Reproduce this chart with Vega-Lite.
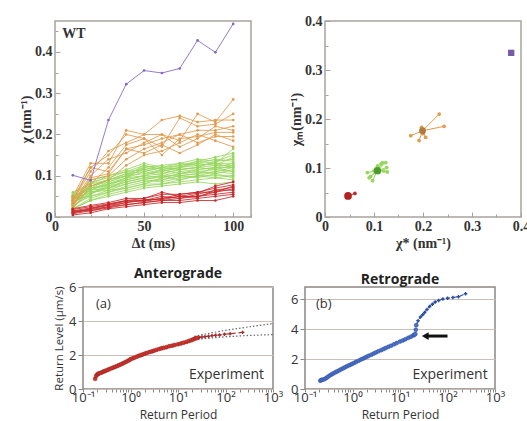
{
"$schema":"https://vega.github.io/schema/vega-lite/v6.json",
"background":"white",
"padding":{"left":18,"top":13,"right":0,"bottom":0},
"spacing":15,
"config":{"view":{"stroke":"#a8a29c","strokeWidth":1.5}},
"datasets":{
"curves":[
{"s":"G1","c":"G","t":10,"v":0.02},{"s":"G1","c":"G","t":20,"v":0.04},{"s":"G1","c":"G","t":30,"v":0.05},{"s":"G1","c":"G","t":40,"v":0.06},{"s":"G1","c":"G","t":50,"v":0.07},{"s":"G1","c":"G","t":60,"v":0.075},{"s":"G1","c":"G","t":70,"v":0.08},{"s":"G1","c":"G","t":80,"v":0.085},{"s":"G1","c":"G","t":90,"v":0.08},{"s":"G1","c":"G","t":100,"v":0.085},
{"s":"G2","c":"G","t":10,"v":0.03},{"s":"G2","c":"G","t":20,"v":0.05},{"s":"G2","c":"G","t":30,"v":0.06},{"s":"G2","c":"G","t":40,"v":0.07},{"s":"G2","c":"G","t":50,"v":0.08},{"s":"G2","c":"G","t":60,"v":0.08},{"s":"G2","c":"G","t":70,"v":0.085},{"s":"G2","c":"G","t":80,"v":0.09},{"s":"G2","c":"G","t":90,"v":0.095},{"s":"G2","c":"G","t":100,"v":0.09},
{"s":"G3","c":"G","t":10,"v":0.025},{"s":"G3","c":"G","t":20,"v":0.06},{"s":"G3","c":"G","t":30,"v":0.065},{"s":"G3","c":"G","t":40,"v":0.08},{"s":"G3","c":"G","t":50,"v":0.09},{"s":"G3","c":"G","t":60,"v":0.085},{"s":"G3","c":"G","t":70,"v":0.095},{"s":"G3","c":"G","t":80,"v":0.1},{"s":"G3","c":"G","t":90,"v":0.1},{"s":"G3","c":"G","t":100,"v":0.1},
{"s":"G4","c":"G","t":10,"v":0.035},{"s":"G4","c":"G","t":20,"v":0.055},{"s":"G4","c":"G","t":30,"v":0.075},{"s":"G4","c":"G","t":40,"v":0.085},{"s":"G4","c":"G","t":50,"v":0.095},{"s":"G4","c":"G","t":60,"v":0.09},{"s":"G4","c":"G","t":70,"v":0.1},{"s":"G4","c":"G","t":80,"v":0.105},{"s":"G4","c":"G","t":90,"v":0.11},{"s":"G4","c":"G","t":100,"v":0.105},
{"s":"G5","c":"G","t":10,"v":0.04},{"s":"G5","c":"G","t":20,"v":0.065},{"s":"G5","c":"G","t":30,"v":0.07},{"s":"G5","c":"G","t":40,"v":0.09},{"s":"G5","c":"G","t":50,"v":0.1},{"s":"G5","c":"G","t":60,"v":0.095},{"s":"G5","c":"G","t":70,"v":0.105},{"s":"G5","c":"G","t":80,"v":0.11},{"s":"G5","c":"G","t":90,"v":0.115},{"s":"G5","c":"G","t":100,"v":0.11},
{"s":"G6","c":"G","t":10,"v":0.045},{"s":"G6","c":"G","t":20,"v":0.07},{"s":"G6","c":"G","t":30,"v":0.08},{"s":"G6","c":"G","t":40,"v":0.095},{"s":"G6","c":"G","t":50,"v":0.11},{"s":"G6","c":"G","t":60,"v":0.1},{"s":"G6","c":"G","t":70,"v":0.11},{"s":"G6","c":"G","t":80,"v":0.115},{"s":"G6","c":"G","t":90,"v":0.12},{"s":"G6","c":"G","t":100,"v":0.12},
{"s":"G7","c":"G","t":10,"v":0.05},{"s":"G7","c":"G","t":20,"v":0.075},{"s":"G7","c":"G","t":30,"v":0.085},{"s":"G7","c":"G","t":40,"v":0.1},{"s":"G7","c":"G","t":50,"v":0.115},{"s":"G7","c":"G","t":60,"v":0.105},{"s":"G7","c":"G","t":70,"v":0.115},{"s":"G7","c":"G","t":80,"v":0.12},{"s":"G7","c":"G","t":90,"v":0.125},{"s":"G7","c":"G","t":100,"v":0.125},
{"s":"G8","c":"G","t":10,"v":0.055},{"s":"G8","c":"G","t":20,"v":0.08},{"s":"G8","c":"G","t":30,"v":0.09},{"s":"G8","c":"G","t":40,"v":0.105},{"s":"G8","c":"G","t":50,"v":0.12},{"s":"G8","c":"G","t":60,"v":0.11},{"s":"G8","c":"G","t":70,"v":0.12},{"s":"G8","c":"G","t":80,"v":0.125},{"s":"G8","c":"G","t":90,"v":0.13},{"s":"G8","c":"G","t":100,"v":0.13},
{"s":"G9","c":"G","t":10,"v":0.03},{"s":"G9","c":"G","t":20,"v":0.085},{"s":"G9","c":"G","t":30,"v":0.095},{"s":"G9","c":"G","t":40,"v":0.11},{"s":"G9","c":"G","t":50,"v":0.125},{"s":"G9","c":"G","t":60,"v":0.115},{"s":"G9","c":"G","t":70,"v":0.125},{"s":"G9","c":"G","t":80,"v":0.13},{"s":"G9","c":"G","t":90,"v":0.14},{"s":"G9","c":"G","t":100,"v":0.135},
{"s":"G10","c":"G","t":10,"v":0.04},{"s":"G10","c":"G","t":20,"v":0.09},{"s":"G10","c":"G","t":30,"v":0.1},{"s":"G10","c":"G","t":40,"v":0.115},{"s":"G10","c":"G","t":50,"v":0.13},{"s":"G10","c":"G","t":60,"v":0.12},{"s":"G10","c":"G","t":70,"v":0.13},{"s":"G10","c":"G","t":80,"v":0.14},{"s":"G10","c":"G","t":90,"v":0.135},{"s":"G10","c":"G","t":100,"v":0.14},
{"s":"G11","c":"G","t":10,"v":0.02},{"s":"G11","c":"G","t":20,"v":0.045},{"s":"G11","c":"G","t":30,"v":0.06},{"s":"G11","c":"G","t":40,"v":0.075},{"s":"G11","c":"G","t":50,"v":0.085},{"s":"G11","c":"G","t":60,"v":0.09},{"s":"G11","c":"G","t":70,"v":0.1},{"s":"G11","c":"G","t":80,"v":0.095},{"s":"G11","c":"G","t":90,"v":0.105},{"s":"G11","c":"G","t":100,"v":0.115},
{"s":"G12","c":"G","t":10,"v":0.035},{"s":"G12","c":"G","t":20,"v":0.06},{"s":"G12","c":"G","t":30,"v":0.07},{"s":"G12","c":"G","t":40,"v":0.085},{"s":"G12","c":"G","t":50,"v":0.095},{"s":"G12","c":"G","t":60,"v":0.1},{"s":"G12","c":"G","t":70,"v":0.09},{"s":"G12","c":"G","t":80,"v":0.1},{"s":"G12","c":"G","t":90,"v":0.11},{"s":"G12","c":"G","t":100,"v":0.12},
{"s":"G13","c":"G","t":10,"v":0.045},{"s":"G13","c":"G","t":20,"v":0.05},{"s":"G13","c":"G","t":30,"v":0.065},{"s":"G13","c":"G","t":40,"v":0.07},{"s":"G13","c":"G","t":50,"v":0.08},{"s":"G13","c":"G","t":60,"v":0.095},{"s":"G13","c":"G","t":70,"v":0.105},{"s":"G13","c":"G","t":80,"v":0.11},{"s":"G13","c":"G","t":90,"v":0.105},{"s":"G13","c":"G","t":100,"v":0.095},
{"s":"G14","c":"G","t":10,"v":0.025},{"s":"G14","c":"G","t":20,"v":0.055},{"s":"G14","c":"G","t":30,"v":0.08},{"s":"G14","c":"G","t":40,"v":0.09},{"s":"G14","c":"G","t":50,"v":0.1},{"s":"G14","c":"G","t":60,"v":0.105},{"s":"G14","c":"G","t":70,"v":0.115},{"s":"G14","c":"G","t":80,"v":0.12},{"s":"G14","c":"G","t":90,"v":0.115},{"s":"G14","c":"G","t":100,"v":0.125},
{"s":"G15","c":"G","t":10,"v":0.05},{"s":"G15","c":"G","t":20,"v":0.065},{"s":"G15","c":"G","t":30,"v":0.085},{"s":"G15","c":"G","t":40,"v":0.1},{"s":"G15","c":"G","t":50,"v":0.105},{"s":"G15","c":"G","t":60,"v":0.11},{"s":"G15","c":"G","t":70,"v":0.12},{"s":"G15","c":"G","t":80,"v":0.13},{"s":"G15","c":"G","t":90,"v":0.125},{"s":"G15","c":"G","t":100,"v":0.145},
{"s":"G16","c":"G","t":10,"v":0.04},{"s":"G16","c":"G","t":20,"v":0.075},{"s":"G16","c":"G","t":30,"v":0.09},{"s":"G16","c":"G","t":40,"v":0.105},{"s":"G16","c":"G","t":50,"v":0.11},{"s":"G16","c":"G","t":60,"v":0.12},{"s":"G16","c":"G","t":70,"v":0.125},{"s":"G16","c":"G","t":80,"v":0.135},{"s":"G16","c":"G","t":90,"v":0.145},{"s":"G16","c":"G","t":100,"v":0.155},
{"s":"G17","c":"G","t":10,"v":0.03},{"s":"G17","c":"G","t":20,"v":0.07},{"s":"G17","c":"G","t":30,"v":0.075},{"s":"G17","c":"G","t":40,"v":0.095},{"s":"G17","c":"G","t":50,"v":0.12},{"s":"G17","c":"G","t":60,"v":0.125},{"s":"G17","c":"G","t":70,"v":0.13},{"s":"G17","c":"G","t":80,"v":0.125},{"s":"G17","c":"G","t":90,"v":0.13},{"s":"G17","c":"G","t":100,"v":0.165},
{"s":"G18","c":"G","t":10,"v":0.06},{"s":"G18","c":"G","t":20,"v":0.08},{"s":"G18","c":"G","t":30,"v":0.1},{"s":"G18","c":"G","t":40,"v":0.11},{"s":"G18","c":"G","t":50,"v":0.115},{"s":"G18","c":"G","t":60,"v":0.12},{"s":"G18","c":"G","t":70,"v":0.115},{"s":"G18","c":"G","t":80,"v":0.12},{"s":"G18","c":"G","t":90,"v":0.135},{"s":"G18","c":"G","t":100,"v":0.15},
{"s":"G19","c":"G","t":10,"v":0.02},{"s":"G19","c":"G","t":20,"v":0.04},{"s":"G19","c":"G","t":30,"v":0.055},{"s":"G19","c":"G","t":40,"v":0.065},{"s":"G19","c":"G","t":50,"v":0.075},{"s":"G19","c":"G","t":60,"v":0.08},{"s":"G19","c":"G","t":70,"v":0.09},{"s":"G19","c":"G","t":80,"v":0.1},{"s":"G19","c":"G","t":90,"v":0.095},{"s":"G19","c":"G","t":100,"v":0.1},
{"s":"G20","c":"G","t":10,"v":0.045},{"s":"G20","c":"G","t":20,"v":0.06},{"s":"G20","c":"G","t":30,"v":0.07},{"s":"G20","c":"G","t":40,"v":0.08},{"s":"G20","c":"G","t":50,"v":0.09},{"s":"G20","c":"G","t":60,"v":0.1},{"s":"G20","c":"G","t":70,"v":0.1},{"s":"G20","c":"G","t":80,"v":0.105},{"s":"G20","c":"G","t":90,"v":0.12},{"s":"G20","c":"G","t":100,"v":0.13},
{"s":"G21","c":"G","t":10,"v":0.035},{"s":"G21","c":"G","t":20,"v":0.065},{"s":"G21","c":"G","t":30,"v":0.08},{"s":"G21","c":"G","t":40,"v":0.095},{"s":"G21","c":"G","t":50,"v":0.1},{"s":"G21","c":"G","t":60,"v":0.115},{"s":"G21","c":"G","t":70,"v":0.105},{"s":"G21","c":"G","t":80,"v":0.115},{"s":"G21","c":"G","t":90,"v":0.12},{"s":"G21","c":"G","t":100,"v":0.11},
{"s":"G22","c":"G","t":10,"v":0.05},{"s":"G22","c":"G","t":20,"v":0.07},{"s":"G22","c":"G","t":30,"v":0.09},{"s":"G22","c":"G","t":40,"v":0.1},{"s":"G22","c":"G","t":50,"v":0.125},{"s":"G22","c":"G","t":60,"v":0.115},{"s":"G22","c":"G","t":70,"v":0.12},{"s":"G22","c":"G","t":80,"v":0.135},{"s":"G22","c":"G","t":90,"v":0.13},{"s":"G22","c":"G","t":100,"v":0.12},
{"s":"O1","c":"O","t":10,"v":0.05},{"s":"O1","c":"O","t":20,"v":0.13},{"s":"O1","c":"O","t":30,"v":0.13},{"s":"O1","c":"O","t":40,"v":0.21},{"s":"O1","c":"O","t":50,"v":0.2},{"s":"O1","c":"O","t":60,"v":0.235},{"s":"O1","c":"O","t":70,"v":0.245},{"s":"O1","c":"O","t":80,"v":0.23},{"s":"O1","c":"O","t":90,"v":0.235},{"s":"O1","c":"O","t":100,"v":0.235},
{"s":"O2","c":"O","t":10,"v":0.04},{"s":"O2","c":"O","t":20,"v":0.11},{"s":"O2","c":"O","t":30,"v":0.16},{"s":"O2","c":"O","t":40,"v":0.18},{"s":"O2","c":"O","t":50,"v":0.2},{"s":"O2","c":"O","t":60,"v":0.2},{"s":"O2","c":"O","t":70,"v":0.185},{"s":"O2","c":"O","t":80,"v":0.25},{"s":"O2","c":"O","t":90,"v":0.23},{"s":"O2","c":"O","t":100,"v":0.285},
{"s":"O3","c":"O","t":10,"v":0.03},{"s":"O3","c":"O","t":20,"v":0.08},{"s":"O3","c":"O","t":30,"v":0.12},{"s":"O3","c":"O","t":40,"v":0.175},{"s":"O3","c":"O","t":50,"v":0.19},{"s":"O3","c":"O","t":60,"v":0.17},{"s":"O3","c":"O","t":70,"v":0.24},{"s":"O3","c":"O","t":80,"v":0.22},{"s":"O3","c":"O","t":90,"v":0.225},{"s":"O3","c":"O","t":100,"v":0.25},
{"s":"O4","c":"O","t":10,"v":0.045},{"s":"O4","c":"O","t":20,"v":0.12},{"s":"O4","c":"O","t":30,"v":0.11},{"s":"O4","c":"O","t":40,"v":0.165},{"s":"O4","c":"O","t":50,"v":0.175},{"s":"O4","c":"O","t":60,"v":0.19},{"s":"O4","c":"O","t":70,"v":0.2},{"s":"O4","c":"O","t":80,"v":0.21},{"s":"O4","c":"O","t":90,"v":0.21},{"s":"O4","c":"O","t":100,"v":0.22},
{"s":"O5","c":"O","t":10,"v":0.035},{"s":"O5","c":"O","t":20,"v":0.1},{"s":"O5","c":"O","t":30,"v":0.14},{"s":"O5","c":"O","t":40,"v":0.155},{"s":"O5","c":"O","t":50,"v":0.18},{"s":"O5","c":"O","t":60,"v":0.2},{"s":"O5","c":"O","t":70,"v":0.17},{"s":"O5","c":"O","t":80,"v":0.19},{"s":"O5","c":"O","t":90,"v":0.22},{"s":"O5","c":"O","t":100,"v":0.21},
{"s":"O6","c":"O","t":10,"v":0.025},{"s":"O6","c":"O","t":20,"v":0.09},{"s":"O6","c":"O","t":30,"v":0.1},{"s":"O6","c":"O","t":40,"v":0.14},{"s":"O6","c":"O","t":50,"v":0.165},{"s":"O6","c":"O","t":60,"v":0.18},{"s":"O6","c":"O","t":70,"v":0.2},{"s":"O6","c":"O","t":80,"v":0.18},{"s":"O6","c":"O","t":90,"v":0.195},{"s":"O6","c":"O","t":100,"v":0.195},
{"s":"O7","c":"O","t":10,"v":0.02},{"s":"O7","c":"O","t":20,"v":0.075},{"s":"O7","c":"O","t":30,"v":0.09},{"s":"O7","c":"O","t":40,"v":0.125},{"s":"O7","c":"O","t":50,"v":0.15},{"s":"O7","c":"O","t":60,"v":0.16},{"s":"O7","c":"O","t":70,"v":0.18},{"s":"O7","c":"O","t":80,"v":0.2},{"s":"O7","c":"O","t":90,"v":0.185},{"s":"O7","c":"O","t":100,"v":0.17},
{"s":"O8","c":"O","t":10,"v":0.04},{"s":"O8","c":"O","t":20,"v":0.12},{"s":"O8","c":"O","t":30,"v":0.15},{"s":"O8","c":"O","t":40,"v":0.2},{"s":"O8","c":"O","t":50,"v":0.19},{"s":"O8","c":"O","t":60,"v":0.15},{"s":"O8","c":"O","t":70,"v":0.19},{"s":"O8","c":"O","t":80,"v":0.195},{"s":"O8","c":"O","t":90,"v":0.205},{"s":"O8","c":"O","t":100,"v":0.205},
{"s":"O9","c":"O","t":10,"v":0.03},{"s":"O9","c":"O","t":20,"v":0.095},{"s":"O9","c":"O","t":30,"v":0.105},{"s":"O9","c":"O","t":40,"v":0.165},{"s":"O9","c":"O","t":50,"v":0.155},{"s":"O9","c":"O","t":60,"v":0.175},{"s":"O9","c":"O","t":70,"v":0.155},{"s":"O9","c":"O","t":80,"v":0.175},{"s":"O9","c":"O","t":90,"v":0.2},{"s":"O9","c":"O","t":100,"v":0.185},
{"s":"R1","c":"R","t":10,"v":0.005},{"s":"R1","c":"R","t":20,"v":0.01},{"s":"R1","c":"R","t":30,"v":0.02},{"s":"R1","c":"R","t":40,"v":0.025},{"s":"R1","c":"R","t":50,"v":0.03},{"s":"R1","c":"R","t":60,"v":0.035},{"s":"R1","c":"R","t":70,"v":0.035},{"s":"R1","c":"R","t":80,"v":0.04},{"s":"R1","c":"R","t":90,"v":0.04},{"s":"R1","c":"R","t":100,"v":0.05},
{"s":"R2","c":"R","t":10,"v":0.008},{"s":"R2","c":"R","t":20,"v":0.015},{"s":"R2","c":"R","t":30,"v":0.022},{"s":"R2","c":"R","t":40,"v":0.03},{"s":"R2","c":"R","t":50,"v":0.035},{"s":"R2","c":"R","t":60,"v":0.04},{"s":"R2","c":"R","t":70,"v":0.04},{"s":"R2","c":"R","t":80,"v":0.045},{"s":"R2","c":"R","t":90,"v":0.05},{"s":"R2","c":"R","t":100,"v":0.055},
{"s":"R3","c":"R","t":10,"v":0.01},{"s":"R3","c":"R","t":20,"v":0.018},{"s":"R3","c":"R","t":30,"v":0.025},{"s":"R3","c":"R","t":40,"v":0.03},{"s":"R3","c":"R","t":50,"v":0.035},{"s":"R3","c":"R","t":60,"v":0.04},{"s":"R3","c":"R","t":70,"v":0.045},{"s":"R3","c":"R","t":80,"v":0.05},{"s":"R3","c":"R","t":90,"v":0.055},{"s":"R3","c":"R","t":100,"v":0.06},
{"s":"R4","c":"R","t":10,"v":0.012},{"s":"R4","c":"R","t":20,"v":0.02},{"s":"R4","c":"R","t":30,"v":0.028},{"s":"R4","c":"R","t":40,"v":0.035},{"s":"R4","c":"R","t":50,"v":0.04},{"s":"R4","c":"R","t":60,"v":0.045},{"s":"R4","c":"R","t":70,"v":0.05},{"s":"R4","c":"R","t":80,"v":0.05},{"s":"R4","c":"R","t":90,"v":0.06},{"s":"R4","c":"R","t":100,"v":0.068},
{"s":"R5","c":"R","t":10,"v":0.015},{"s":"R5","c":"R","t":20,"v":0.022},{"s":"R5","c":"R","t":30,"v":0.03},{"s":"R5","c":"R","t":40,"v":0.038},{"s":"R5","c":"R","t":50,"v":0.04},{"s":"R5","c":"R","t":60,"v":0.05},{"s":"R5","c":"R","t":70,"v":0.045},{"s":"R5","c":"R","t":80,"v":0.055},{"s":"R5","c":"R","t":90,"v":0.065},{"s":"R5","c":"R","t":100,"v":0.072},
{"s":"R6","c":"R","t":10,"v":0.018},{"s":"R6","c":"R","t":20,"v":0.025},{"s":"R6","c":"R","t":30,"v":0.032},{"s":"R6","c":"R","t":40,"v":0.04},{"s":"R6","c":"R","t":50,"v":0.045},{"s":"R6","c":"R","t":60,"v":0.055},{"s":"R6","c":"R","t":70,"v":0.055},{"s":"R6","c":"R","t":80,"v":0.06},{"s":"R6","c":"R","t":90,"v":0.07},{"s":"R6","c":"R","t":100,"v":0.078},
{"s":"R7","c":"R","t":10,"v":0.02},{"s":"R7","c":"R","t":20,"v":0.028},{"s":"R7","c":"R","t":30,"v":0.035},{"s":"R7","c":"R","t":40,"v":0.045},{"s":"R7","c":"R","t":50,"v":0.045},{"s":"R7","c":"R","t":60,"v":0.06},{"s":"R7","c":"R","t":70,"v":0.05},{"s":"R7","c":"R","t":80,"v":0.058},{"s":"R7","c":"R","t":90,"v":0.075},{"s":"R7","c":"R","t":100,"v":0.085},
{"s":"R8","c":"R","t":10,"v":0.01},{"s":"R8","c":"R","t":20,"v":0.02},{"s":"R8","c":"R","t":30,"v":0.03},{"s":"R8","c":"R","t":40,"v":0.04},{"s":"R8","c":"R","t":50,"v":0.038},{"s":"R8","c":"R","t":60,"v":0.045},{"s":"R8","c":"R","t":70,"v":0.055},{"s":"R8","c":"R","t":80,"v":0.06},{"s":"R8","c":"R","t":90,"v":0.06},{"s":"R8","c":"R","t":100,"v":0.075},
{"s":"R9","c":"R","t":10,"v":0.015},{"s":"R9","c":"R","t":20,"v":0.015},{"s":"R9","c":"R","t":30,"v":0.025},{"s":"R9","c":"R","t":40,"v":0.035},{"s":"R9","c":"R","t":50,"v":0.042},{"s":"R9","c":"R","t":60,"v":0.042},{"s":"R9","c":"R","t":70,"v":0.05},{"s":"R9","c":"R","t":80,"v":0.048},{"s":"R9","c":"R","t":90,"v":0.065},{"s":"R9","c":"R","t":100,"v":0.065},
{"s":"P1","c":"P","t":10,"v":0.101},{"s":"P1","c":"P","t":20,"v":0.089},{"s":"P1","c":"P","t":30,"v":0.235},{"s":"P1","c":"P","t":40,"v":0.322},{"s":"P1","c":"P","t":50,"v":0.355},{"s":"P1","c":"P","t":60,"v":0.349},{"s":"P1","c":"P","t":70,"v":0.36},{"s":"P1","c":"P","t":80,"v":0.428},{"s":"P1","c":"P","t":90,"v":0.399},{"s":"P1","c":"P","t":100,"v":0.468}
],
"sc":[
{"c":"R","x":0.061,"y":0.048,"cx":0.047,"cy":0.043},
{"c":"G","x":0.0865,"y":0.0908,"cx":0.107,"cy":0.0945},
{"c":"G","x":0.09,"y":0.08,"cx":0.107,"cy":0.0945},
{"c":"G","x":0.097,"y":0.074,"cx":0.107,"cy":0.0945},
{"c":"G","x":0.1,"y":0.094,"cx":0.107,"cy":0.0945},
{"c":"G","x":0.1035,"y":0.0975,"cx":0.107,"cy":0.0945},
{"c":"G","x":0.107,"y":0.1045,"cx":0.107,"cy":0.0945},
{"c":"G","x":0.11,"y":0.091,"cx":0.107,"cy":0.0945},
{"c":"G","x":0.114,"y":0.108,"cx":0.107,"cy":0.0945},
{"c":"G","x":0.117,"y":0.111,"cx":0.107,"cy":0.0945},
{"c":"G","x":0.124,"y":0.111,"cx":0.107,"cy":0.0945},
{"c":"G","x":0.126,"y":0.101,"cx":0.107,"cy":0.0945},
{"c":"G","x":0.12,"y":0.094,"cx":0.107,"cy":0.0945},
{"c":"G","x":0.093,"y":0.083,"cx":0.107,"cy":0.0945},
{"c":"G","x":0.127,"y":0.092,"cx":0.107,"cy":0.0945},
{"c":"O","x":0.233,"y":0.21,"cx":0.199,"cy":0.176},
{"c":"O","x":0.243,"y":0.185,"cx":0.199,"cy":0.176},
{"c":"O","x":0.175,"y":0.166,"cx":0.199,"cy":0.176},
{"c":"O","x":0.192,"y":0.156,"cx":0.199,"cy":0.176},
{"c":"O","x":0.2055,"y":0.1625,"cx":0.199,"cy":0.176},
{"c":"O","x":0.197,"y":0.183,"cx":0.199,"cy":0.176},
{"c":"O","x":0.2,"y":0.17,"cx":0.199,"cy":0.176}
],
"ctr":[
{"c":"R","x":0.047,"y":0.043},
{"c":"G","x":0.107,"y":0.0945},
{"c":"O","x":0.199,"y":0.176},
{"c":"P","x":0.38,"y":0.335}
],
"ret":[
{"p":"a","k":"d","T":0.18,"y":0.6},{"p":"a","k":"d","T":0.19,"y":0.78},{"p":"a","k":"d","T":0.2,"y":0.86},{"p":"a","k":"d","T":0.21,"y":0.89},{"p":"a","k":"d","T":0.22,"y":0.92},{"p":"a","k":"d","T":0.24,"y":0.96},{"p":"a","k":"d","T":0.26,"y":1.0},{"p":"a","k":"d","T":0.28,"y":1.04},{"p":"a","k":"d","T":0.3,"y":1.08},{"p":"a","k":"d","T":0.33,"y":1.12},{"p":"a","k":"d","T":0.36,"y":1.17},{"p":"a","k":"d","T":0.4,"y":1.22},{"p":"a","k":"d","T":0.44,"y":1.27},{"p":"a","k":"d","T":0.48,"y":1.31},{"p":"a","k":"d","T":0.53,"y":1.36},{"p":"a","k":"d","T":0.58,"y":1.41},{"p":"a","k":"d","T":0.64,"y":1.46},{"p":"a","k":"d","T":0.7,"y":1.51},{"p":"a","k":"d","T":0.77,"y":1.57},{"p":"a","k":"d","T":0.85,"y":1.63},{"p":"a","k":"d","T":0.93,"y":1.69},{"p":"a","k":"d","T":1.0,"y":1.75},{"p":"a","k":"d","T":1.1,"y":1.8},{"p":"a","k":"d","T":1.2,"y":1.84},{"p":"a","k":"d","T":1.35,"y":1.9},{"p":"a","k":"d","T":1.5,"y":1.95},{"p":"a","k":"d","T":1.65,"y":1.99},{"p":"a","k":"d","T":1.8,"y":2.03},{"p":"a","k":"d","T":2.0,"y":2.08},{"p":"a","k":"d","T":2.2,"y":2.12},{"p":"a","k":"d","T":2.5,"y":2.17},{"p":"a","k":"d","T":2.8,"y":2.21},{"p":"a","k":"d","T":3.1,"y":2.25},{"p":"a","k":"d","T":3.5,"y":2.3},{"p":"a","k":"d","T":4.0,"y":2.35},{"p":"a","k":"d","T":4.5,"y":2.39},{"p":"a","k":"d","T":5.0,"y":2.42},{"p":"a","k":"d","T":5.7,"y":2.46},{"p":"a","k":"d","T":6.5,"y":2.51},{"p":"a","k":"d","T":7.5,"y":2.55},{"p":"a","k":"d","T":8.5,"y":2.59},{"p":"a","k":"d","T":10,"y":2.63},{"p":"a","k":"d","T":11.5,"y":2.68},{"p":"a","k":"d","T":13,"y":2.72},{"p":"a","k":"d","T":15,"y":2.77},{"p":"a","k":"d","T":17,"y":2.82},{"p":"a","k":"d","T":19,"y":2.87},{"p":"a","k":"d","T":21,"y":2.92},{"p":"a","k":"d","T":23,"y":2.97},{"p":"a","k":"d","T":25,"y":3.0},
{"p":"a","k":"t","T":25,"y":3.0},{"p":"a","k":"t","T":28,"y":3.03},{"p":"a","k":"t","T":32,"y":3.06},{"p":"a","k":"t","T":37,"y":3.08},{"p":"a","k":"t","T":44,"y":3.1},{"p":"a","k":"t","T":52,"y":3.14},{"p":"a","k":"t","T":62,"y":3.16},{"p":"a","k":"t","T":75,"y":3.18},{"p":"a","k":"t","T":95,"y":3.22},{"p":"a","k":"t","T":125,"y":3.25},{"p":"a","k":"t","T":230,"y":3.33},
{"p":"b","k":"d","T":0.21,"y":0.55},{"p":"b","k":"d","T":0.22,"y":0.6},{"p":"b","k":"d","T":0.23,"y":0.62},{"p":"b","k":"d","T":0.25,"y":0.64},{"p":"b","k":"d","T":0.27,"y":0.7},{"p":"b","k":"d","T":0.29,"y":0.76},{"p":"b","k":"d","T":0.31,"y":0.84},{"p":"b","k":"d","T":0.34,"y":0.92},{"p":"b","k":"d","T":0.37,"y":0.99},{"p":"b","k":"d","T":0.4,"y":1.05},{"p":"b","k":"d","T":0.44,"y":1.12},{"p":"b","k":"d","T":0.48,"y":1.18},{"p":"b","k":"d","T":0.53,"y":1.25},{"p":"b","k":"d","T":0.58,"y":1.32},{"p":"b","k":"d","T":0.64,"y":1.39},{"p":"b","k":"d","T":0.7,"y":1.45},{"p":"b","k":"d","T":0.77,"y":1.52},{"p":"b","k":"d","T":0.85,"y":1.58},{"p":"b","k":"d","T":0.93,"y":1.64},{"p":"b","k":"d","T":1.0,"y":1.69},{"p":"b","k":"d","T":1.1,"y":1.75},{"p":"b","k":"d","T":1.2,"y":1.81},{"p":"b","k":"d","T":1.35,"y":1.89},{"p":"b","k":"d","T":1.5,"y":1.96},{"p":"b","k":"d","T":1.65,"y":2.02},{"p":"b","k":"d","T":1.8,"y":2.08},{"p":"b","k":"d","T":2.0,"y":2.15},{"p":"b","k":"d","T":2.2,"y":2.21},{"p":"b","k":"d","T":2.5,"y":2.29},{"p":"b","k":"d","T":2.8,"y":2.36},{"p":"b","k":"d","T":3.1,"y":2.43},{"p":"b","k":"d","T":3.5,"y":2.51},{"p":"b","k":"d","T":4.0,"y":2.59},{"p":"b","k":"d","T":4.5,"y":2.66},{"p":"b","k":"d","T":5.0,"y":2.73},{"p":"b","k":"d","T":5.7,"y":2.81},{"p":"b","k":"d","T":6.5,"y":2.89},{"p":"b","k":"d","T":7.5,"y":2.98},{"p":"b","k":"d","T":8.5,"y":3.06},{"p":"b","k":"d","T":10,"y":3.16},{"p":"b","k":"d","T":11.5,"y":3.24},{"p":"b","k":"d","T":13,"y":3.32},{"p":"b","k":"d","T":15,"y":3.41},{"p":"b","k":"d","T":17,"y":3.49},{"p":"b","k":"d","T":19,"y":3.57},{"p":"b","k":"d","T":20,"y":3.62},{"p":"b","k":"d","T":21,"y":3.66},{"p":"b","k":"d","T":21.5,"y":3.95},{"p":"b","k":"d","T":22,"y":4.25},
{"p":"b","k":"t","T":22,"y":4.25},{"p":"b","k":"t","T":24,"y":4.55},{"p":"b","k":"t","T":27,"y":4.8},{"p":"b","k":"t","T":30,"y":4.95},{"p":"b","k":"t","T":33,"y":5.1},{"p":"b","k":"t","T":37,"y":5.3},{"p":"b","k":"t","T":42,"y":5.5},{"p":"b","k":"t","T":48,"y":5.65},{"p":"b","k":"t","T":55,"y":5.8},{"p":"b","k":"t","T":65,"y":5.9},{"p":"b","k":"t","T":80,"y":6.0},{"p":"b","k":"t","T":100,"y":6.05},{"p":"b","k":"t","T":130,"y":6.1},{"p":"b","k":"t","T":170,"y":6.15},{"p":"b","k":"t","T":240,"y":6.35}
],
"bnd":[
{"b":"u","T":22,"y":3.1},{"b":"u","T":50,"y":3.3},{"b":"u","T":100,"y":3.45},{"b":"u","T":300,"y":3.65},{"b":"u","T":1000,"y":3.85},
{"b":"l","T":22,"y":2.9},{"b":"l","T":50,"y":3.0},{"b":"l","T":100,"y":3.07},{"b":"l","T":300,"y":3.15},{"b":"l","T":1000,"y":3.2}
]
},
"vconcat":[
{"hconcat":[
{"width":196,"height":196,
"layer":[
{"data":{"name":"curves"},"mark":{"type":"line","strokeWidth":1,"opacity":0.85},
"encoding":{
"x":{"field":"t","type":"quantitative","scale":{"domain":[0,110],"nice":false},"axis":{"values":[0,10,20,30,40,50,60,70,80,90,100,110],"tickCount":50,"labelOverlap":false,"labelFlush":false,"labelExpr":"datum.value % 50 == 0 ? datum.label : ''","title":"Δt (ms)","domain":false,"grid":false,"tickSize":{"condition":{"test":"datum.value % 50 == 0","value":-5},"value":-3},"tickColor":"#a8a29c","labelPadding":7,"labelFont":"Liberation Serif","labelFontSize":14,"labelFontWeight":"bold","labelColor":"#333","titleFont":"Liberation Serif","titleFontSize":14,"titleFontWeight":"bold","titleColor":"#333","titlePadding":1}},
"y":{"field":"v","type":"quantitative","scale":{"domain":[0,0.475],"nice":false},"axis":{"values":[0,0.05,0.1,0.15,0.2,0.25,0.3,0.35,0.4,0.45],"tickCount":50,"labelOverlap":false,"format":"~g","labelExpr":"round(datum.value*100) % 10 == 0 ? datum.label : ''","title":"χ (nm⁻¹)","domain":false,"grid":false,"tickSize":{"condition":{"test":"round(datum.value*100) % 10 == 0","value":-5},"value":-3},"tickColor":"#a8a29c","labelPadding":8,"labelFont":"Liberation Serif","labelFontSize":14,"labelFontWeight":"bold","labelColor":"#333","titleFont":"Liberation Serif","titleFontSize":14,"titleFontWeight":"bold","titleColor":"#333","titlePadding":1}},
"color":{"field":"c","type":"nominal","scale":{"domain":["P","O","G","R"],"range":["#8064c8","#e29a4c","#96d65c","#c8282a"]},"legend":null},
"detail":{"field":"s"}}},
{"data":{"name":"curves"},"mark":{"type":"point","filled":true,"size":7,"opacity":1},
"encoding":{"x":{"field":"t","type":"quantitative"},"y":{"field":"v","type":"quantitative"},"color":{"field":"c","type":"nominal","legend":null}}},
{"data":{"values":[{"t":4,"v":0.443,"lab":"WT"}]},"mark":{"type":"text","align":"left","baseline":"middle","font":"Liberation Serif","fontSize":14,"fontWeight":"bold","color":"#333"},
"encoding":{"x":{"field":"t","type":"quantitative"},"y":{"field":"v","type":"quantitative"},"text":{"field":"lab"}}}
]},
{"width":196,"height":196,
"layer":[
{"data":{"name":"sc"},"mark":{"type":"rule","strokeWidth":1},
"encoding":{
"x":{"field":"x","type":"quantitative","scale":{"domain":[0,0.4],"nice":false},"axis":{"values":[0,0.05,0.1,0.15,0.2,0.25,0.3,0.35,0.4],"tickCount":50,"labelOverlap":false,"labelFlush":false,"format":"~g","labelExpr":"round(datum.value*100) % 10 == 0 ? datum.label : ''","title":"χ* (nm⁻¹)","domain":false,"grid":false,"tickSize":{"condition":{"test":"round(datum.value*100) % 10 == 0","value":-5},"value":-3},"tickColor":"#a8a29c","labelPadding":7,"labelFont":"Liberation Serif","labelFontSize":14,"labelFontWeight":"bold","labelColor":"#333","titleFont":"Liberation Serif","titleFontSize":14,"titleFontWeight":"bold","titleColor":"#333","titlePadding":1}},
"y":{"field":"y","type":"quantitative","scale":{"domain":[0,0.4],"nice":false},"axis":{"values":[0,0.05,0.1,0.15,0.2,0.25,0.3,0.35,0.4],"tickCount":50,"labelOverlap":false,"format":"~g","labelExpr":"round(datum.value*100) % 10 == 0 ? datum.label : ''","title":"χₘ(nm⁻¹)","domain":false,"grid":false,"tickSize":{"condition":{"test":"round(datum.value*100) % 10 == 0","value":-5},"value":-3},"tickColor":"#a8a29c","labelPadding":8,"labelFont":"Liberation Serif","labelFontSize":14,"labelFontWeight":"bold","labelColor":"#333","titleFont":"Liberation Serif","titleFontSize":14,"titleFontWeight":"bold","titleColor":"#333","titlePadding":1}},
"x2":{"field":"cx"},"y2":{"field":"cy"},
"color":{"field":"c","type":"nominal","scale":{"domain":["P","O","G","R"],"range":["#8064c8","#e29a4c","#96d65c","#c8282a"]},"legend":null}}},
{"data":{"name":"sc"},"mark":{"type":"point","filled":true,"size":14,"opacity":1},
"encoding":{"x":{"field":"x","type":"quantitative"},"y":{"field":"y","type":"quantitative"},"color":{"field":"c","type":"nominal","legend":null}}},
{"data":{"name":"ctr"},"mark":{"type":"point","filled":true,"opacity":1},
"encoding":{"x":{"field":"x","type":"quantitative"},"y":{"field":"y","type":"quantitative"},
"fill":{"field":"c","type":"nominal","scale":{"domain":["R","G","O","P"],"range":["#b02424","#4f9a2c","#b07a3c","#7a5aa8"]},"legend":null},
"shape":{"field":"c","type":"nominal","scale":{"domain":["R","G","O","P"],"range":["circle","circle","circle","square"]},"legend":null},
"size":{"field":"c","type":"nominal","scale":{"domain":["R","G","O","P"],"range":[60,40,40,30]},"legend":null}}}
]}
],"spacing":74,"bounds":"flush"},
{"hconcat":[
{"width":1,"height":102,"data":{"values":[]},"mark":"point","view":{"stroke":null}},
{"hconcat":[
{"width":190,"height":102,
"view":{"stroke":"#8c8782","strokeWidth":1.5},
"title":{"text":"Anterograde","font":"Open Sans","fontSize":14,"fontWeight":"bold","color":"#222","offset":0},
"layer":[
{"data":{"name":"bnd"},"mark":{"type":"line","strokeDash":[1.5,2],"strokeWidth":1.2,"color":"#666"},
"encoding":{
"x":{"field":"T","type":"quantitative","scale":{"type":"log","domain":[0.1,1000],"nice":false},"axis":{"values":[0.1,0.2,0.3,0.4,0.5,0.6,0.7,0.8,0.9,1,2,3,4,5,6,7,8,9,10,20,30,40,50,60,70,80,90,100,200,300,400,500,600,700,800,900,1000],"tickCount":100,"labelOverlap":false,"labelFlush":false,"labelExpr":"datum.value == 0.1 ? '10⁻¹' : datum.value == 1 ? '10⁰' : datum.value == 10 ? '10¹' : datum.value == 100 ? '10²' : datum.value == 1000 ? '10³' : ''","title":"Return Period","domain":false,"grid":false,"tickSize":3,"tickColor":"#888","labelPadding":-1,"labelFont":"Open Sans","labelFontSize":13,"labelColor":"#333","titleFont":"Open Sans","titleFontSize":12,"titleFontWeight":"normal","titleColor":"#333","titlePadding":5}},
"y":{"field":"y","type":"quantitative","scale":{"domain":[0,6],"nice":false},"axis":{"values":[0,2,4,6],"tickCount":10,"format":"d","title":"Return Level (μm/s)","domain":false,"grid":true,"gridColor":"#c9c1b9","tickSize":5,"tickColor":"#888","labelPadding":2,"labelFont":"Open Sans","labelFontSize":13,"labelColor":"#333","titleFont":"Open Sans","titleFontSize":11.5,"titleFontWeight":"normal","titleColor":"#333","titlePadding":4}},
"detail":{"field":"b"}}},
{"data":{"name":"ret"},"transform":[{"filter":"datum.p == 'a' && datum.k == 't'"}],"mark":{"type":"line","strokeDash":[4,3],"strokeWidth":1.2,"color":"#b03028","point":{"shape":"cross","size":12,"color":"#a03030"}},
"encoding":{"x":{"field":"T","type":"quantitative"},"y":{"field":"y","type":"quantitative"}}},
{"data":{"name":"ret"},"transform":[{"filter":"datum.p == 'a' && datum.k == 'd'"}],"mark":{"type":"circle","size":16,"color":"#d0342c","opacity":1,"stroke":"#8e1c1c","strokeWidth":0.5},
"encoding":{"x":{"field":"T","type":"quantitative"},"y":{"field":"y","type":"quantitative"}}},
{"data":{"values":[{"T":0.188,"y":5.0,"lab":"(a)"}]},"mark":{"type":"text","align":"left","baseline":"middle","font":"Open Sans","fontSize":13,"color":"#333"},
"encoding":{"x":{"field":"T","type":"quantitative"},"y":{"field":"y","type":"quantitative"},"text":{"field":"lab"}}},
{"data":{"values":[{"T":650,"y":0.84,"lab":"Experiment"}]},"mark":{"type":"text","align":"right","baseline":"middle","font":"Open Sans","fontSize":14,"color":"#333"},
"encoding":{"x":{"field":"T","type":"quantitative"},"y":{"field":"y","type":"quantitative"},"text":{"field":"lab"}}}
]},
{"width":190,"height":102,
"view":{"stroke":"#8c8782","strokeWidth":1.5},
"title":{"text":"Retrograde","font":"Open Sans","fontSize":14,"fontWeight":"bold","color":"#222","offset":0},
"layer":[
{"data":{"name":"ret"},"transform":[{"filter":"datum.p == 'b' && datum.k == 't'"}],"mark":{"type":"line","strokeDash":[4,3],"strokeWidth":1.2,"color":"#3a5cb0","point":{"shape":"cross","size":12,"color":"#2a4c9c"}},
"encoding":{
"x":{"field":"T","type":"quantitative","scale":{"type":"log","domain":[0.1,1000],"nice":false},"axis":{"values":[0.1,0.2,0.3,0.4,0.5,0.6,0.7,0.8,0.9,1,2,3,4,5,6,7,8,9,10,20,30,40,50,60,70,80,90,100,200,300,400,500,600,700,800,900,1000],"tickCount":100,"labelOverlap":false,"labelFlush":false,"labelExpr":"datum.value == 0.1 ? '10⁻¹' : datum.value == 1 ? '10⁰' : datum.value == 10 ? '10¹' : datum.value == 100 ? '10²' : datum.value == 1000 ? '10³' : ''","title":"Return Period","domain":false,"grid":false,"tickSize":3,"tickColor":"#888","labelPadding":-1,"labelFont":"Open Sans","labelFontSize":13,"labelColor":"#333","titleFont":"Open Sans","titleFontSize":12,"titleFontWeight":"normal","titleColor":"#333","titlePadding":5}},
"y":{"field":"y","type":"quantitative","scale":{"domain":[0,6.8],"nice":false},"axis":{"values":[0,2,4,6],"tickCount":10,"format":"d","title":null,"domain":false,"grid":true,"gridColor":"#c9c1b9","tickSize":5,"tickColor":"#888","labelPadding":2,"labelFont":"Open Sans","labelFontSize":13,"labelColor":"#333"}}}},
{"data":{"name":"ret"},"transform":[{"filter":"datum.p == 'b' && datum.k == 'd'"}],"mark":{"type":"circle","size":16,"color":"#4a70c8","opacity":1,"stroke":"#2c4c9c","strokeWidth":0.5},
"encoding":{"x":{"field":"T","type":"quantitative"},"y":{"field":"y","type":"quantitative"}}},
{"data":{"values":[{"T":35,"T2":100,"y":3.53}]},"mark":{"type":"rule","strokeWidth":3,"color":"#111"},
"encoding":{"x":{"field":"T","type":"quantitative"},"x2":{"field":"T2"},"y":{"field":"y","type":"quantitative"}}},
{"data":{"values":[{"T":34,"y":3.53}]},"mark":{"type":"point","shape":"triangle-left","filled":true,"size":60,"color":"#111","opacity":1},
"encoding":{"x":{"field":"T","type":"quantitative"},"y":{"field":"y","type":"quantitative"}}},
{"data":{"values":[{"T":0.17,"y":5.65,"lab":"(b)"}]},"mark":{"type":"text","align":"left","baseline":"middle","font":"Open Sans","fontSize":13,"color":"#333"},
"encoding":{"x":{"field":"T","type":"quantitative"},"y":{"field":"y","type":"quantitative"},"text":{"field":"lab"}}},
{"data":{"values":[{"T":700,"y":0.95,"lab":"Experiment"}]},"mark":{"type":"text","align":"right","baseline":"middle","font":"Open Sans","fontSize":14,"color":"#333"},
"encoding":{"x":{"field":"T","type":"quantitative"},"y":{"field":"y","type":"quantitative"},"text":{"field":"lab"}}}
]}
],"spacing":32,"bounds":"flush"}
],"spacing":27,"bounds":"flush"}
]
}
